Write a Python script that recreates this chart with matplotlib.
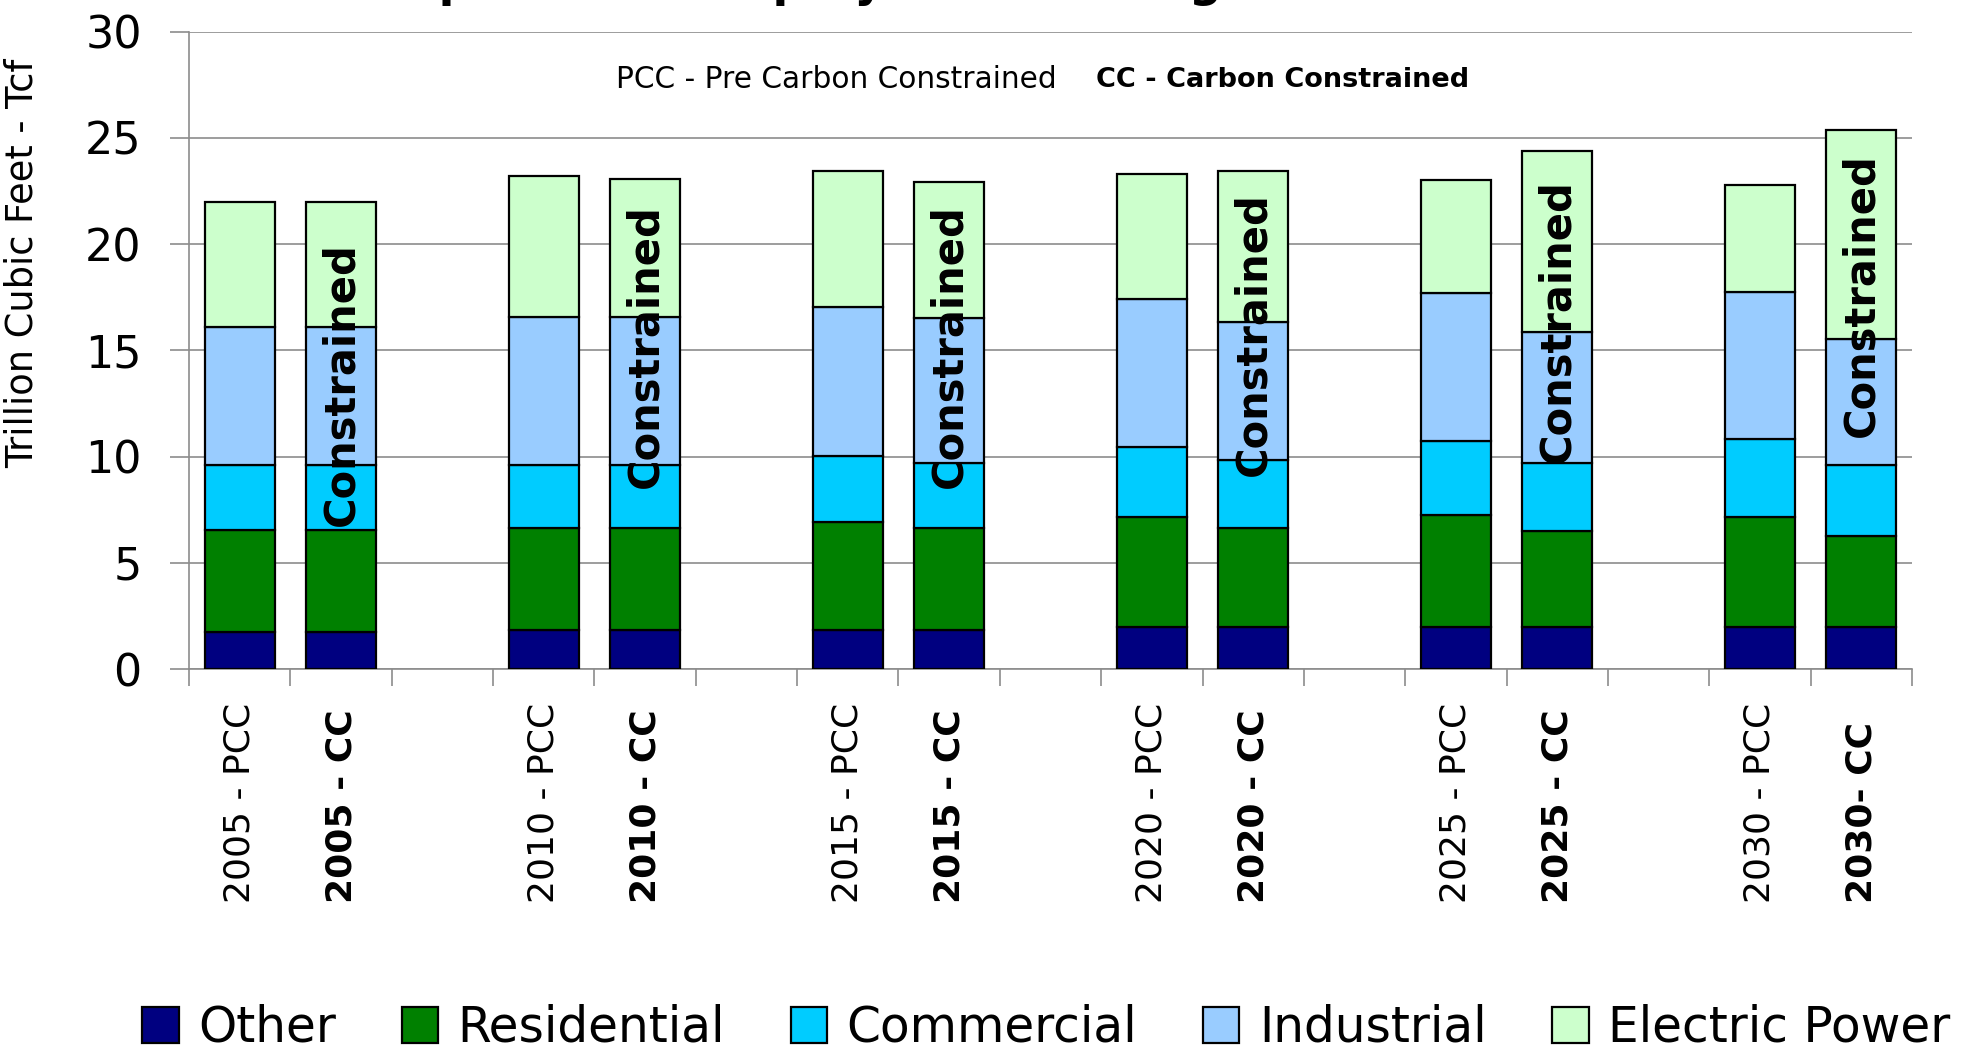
import numpy as np
import matplotlib
matplotlib.use("Agg")
import matplotlib.pyplot as plt

# stacked natural gas use per end-use segment, Tcf
bar_labels = ['2005 - PCC', '2005 - CC', '2010 - PCC', '2010 - CC',
              '2015 - PCC', '2015 - CC', '2020 - PCC', '2020 - CC',
              '2025 - PCC', '2025 - CC', '2030 - PCC', '2030- CC']
other       = [1.75, 1.75, 1.86, 1.86, 1.86, 1.86, 1.98, 1.98, 1.99, 1.99, 1.99, 1.99]
residential = [4.79, 4.79, 4.79, 4.79, 5.04, 4.79, 5.17, 4.67, 5.28, 4.53, 5.18, 4.29]
commercial  = [3.06, 3.06, 2.95, 2.95, 3.15, 3.07, 3.30, 3.20, 3.45, 3.20, 3.64, 3.34]
industrial  = [6.50, 6.50, 6.96, 6.96, 7.00, 6.81, 6.97, 6.47, 6.98, 6.16, 6.92, 5.91]
electric    = [5.90, 5.90, 6.64, 6.52, 6.39, 6.41, 5.90, 7.12, 5.30, 8.52, 5.05, 9.84]

series = ['Other', 'Residential', 'Commercial', 'Industrial', 'Electric Power']
colors = ['#000080', '#008000', '#00CCFF', '#99CCFF', '#CCFFCC']

# vertical centre of the "Constrained" text on each CC bar
constrained_mid = [13.4, 15.2, 15.2, 15.75, 16.4, 17.6]

fig = plt.figure(figsize=(19.63, 10.52), dpi=100)
ax = fig.add_axes([0.0963, 0.364, 0.8777, 0.606])

# two bars per year, one empty slot between years
x = np.array([3 * (i // 2) + i % 2 for i in range(len(bar_labels))])

bottom = np.zeros(len(x))
for name, vals, col in zip(series, [other, residential, commercial, industrial, electric], colors):
    ax.bar(x, vals, 0.69, bottom=bottom, color=col, edgecolor='black',
           linewidth=1.6, label=name, zorder=3)
    bottom += np.array(vals)

ax.set_xlim(-0.5, 16.5)
ax.set_ylim(0, 30)
ax.set_yticks(range(0, 31, 5))
ax.grid(axis='y', color='#8c8c8c', linewidth=1.2, zorder=0)
ax.set_axisbelow(True)

# labels start (bottom end) on a common line, like the original
ax.set_xticks(x)
ax.set_xticklabels(bar_labels, rotation=90, fontsize=26, va='bottom', ha='center')
for i, lab in enumerate(ax.get_xticklabels()):
    if i % 2 == 1:
        lab.set_fontweight('bold')
ax.set_xticks(np.arange(-0.5, 17, 1), minor=True)
ax.tick_params(axis='x', which='major', length=0, pad=168.5)
ax.tick_params(axis='x', which='minor', length=12, color='#8c8c8c', width=1.2)
ax.tick_params(axis='y', length=14, color='#8c8c8c', width=1.2, labelsize=32, pad=20)

for s in ['top', 'right']:
    ax.spines[s].set_visible(False)
for s in ['left', 'bottom']:
    ax.spines[s].set_color('#8c8c8c')
    ax.spines[s].set_linewidth(1.2)

ax.set_ylabel('Trillion Cubic Feet - Tcf', fontsize=26.5)
ax.yaxis.set_label_coords(-0.086, 0.637)

for g, mid in enumerate(constrained_mid):
    ax.text(x[2 * g + 1], mid, 'Constrained', rotation=90, ha='center', va='center',
            fontsize=30, fontweight='bold', zorder=5)

fig.text(0.3138, 0.924, 'PCC - Pre Carbon Constrained', fontsize=21.3, va='center', ha='left')
fig.text(0.5583, 0.924, 'CC - Carbon Constrained', fontsize=19.5, fontweight='bold',
         va='center', ha='left')

# title sits almost entirely above the canvas, only the descenders show
fig.text(0.0616, 1 - 6 / 1052, 'Gas Consumption Breakup by End Use Segment', fontsize=33,
         fontweight='bold', va='bottom', ha='left')

fig.legend(loc='center', bbox_to_anchor=(0.533, 0.023), ncol=5, frameon=False,
           fontsize=35, handlelength=0.75, handleheight=0.75, handletextpad=0.4,
           columnspacing=1.35)

fig.savefig('out.png', dpi=100)
